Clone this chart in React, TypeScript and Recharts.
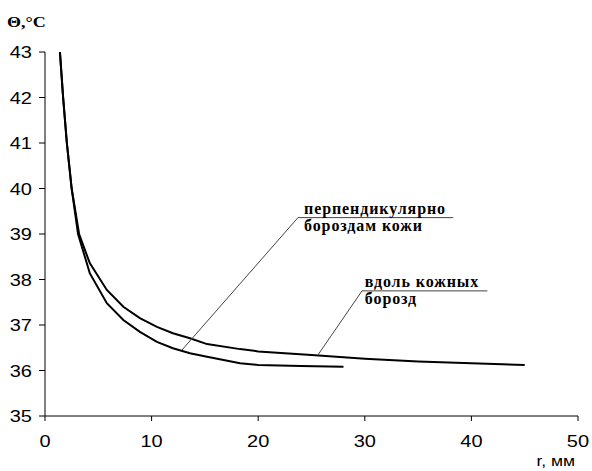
import React from 'react';
import { LineChart, Line, XAxis, YAxis, ReferenceLine, ReferenceDot } from 'recharts';

// вдоль кожных борозд (upper curve)
const alongX = [1.4, 1.7, 2.05, 2.5, 3.2, 4.2, 5.8, 7.35, 8.9, 10.5, 12, 13.6, 15.2, 18.3, 20, 25, 30, 35, 40, 45];
const alongY = [43, 42, 41, 40, 39, 38.36, 37.77, 37.4, 37.15, 36.96, 36.82, 36.71, 36.58, 36.47, 36.42, 36.34, 36.26, 36.2, 36.16, 36.12];
// перпендикулярно бороздам кожи (lower curve)
const perpX = [1.4, 1.7, 2.05, 2.5, 3.1, 4.2, 5.8, 7.35, 8.9, 10.5, 12, 13.6, 15.2, 18.3, 20, 24, 28];
const perpY = [43, 42, 41, 40, 39, 38.14, 37.48, 37.11, 36.85, 36.63, 36.49, 36.38, 36.3, 36.16, 36.12, 36.1, 36.08];

const xTicks = [0, 10, 20, 30, 40, 50];
const yTicks = [35, 36, 37, 38, 39, 40, 41, 42, 43];

const perpLabel = ['перпендикулярно', 'бороздам кожи'];
const alongLabel = ['вдоль кожных', 'борозд'];
const xTitle = 'r, мм';
const yTitle = 'Θ,°C';

// annotation anchors (data coordinates)
const perpLeader = [{ x: 12.85, y: 36.45 }, { x: 23.73, y: 39.36 }];
const perpUnder = [{ x: 23.73, y: 39.36 }, { x: 38.3, y: 39.36 }];
const perpText = { x: 24.3, y: 39.44 };
const alongLeader = [{ x: 25.6, y: 36.34 }, { x: 29.74, y: 37.75 }];
const alongUnder = [{ x: 29.74, y: 37.75 }, { x: 41.5, y: 37.75 }];
const alongText = { x: 30.0, y: 37.84 };

const alongData = alongX.map((x, i) => ({ x, y: alongY[i] }));
const perpData = perpX.map((x, i) => ({ x, y: perpY[i] }));

const serif = '"Liberation Serif", "Times New Roman", serif';
const sans = '"Liberation Sans", Arial, sans-serif';

const makeTextShape = (lines: string[]) => (props: any) => (
  <text
    x={props.cx}
    y={props.cy}
    fontFamily={serif}
    fontWeight="bold"
    fontSize={16}
    letterSpacing={0.9}
    fill="#000"
  >
    {lines.map((l, i) => (
      <tspan key={i} x={props.cx} dy={i === 0 ? 0 : 17}>
        {l}
      </tspan>
    ))}
  </text>
);

const XTick = (props: any) => {
  const { x, y, payload } = props;
  return (
    <text transform={`translate(${x},${y + 12}) scale(1.25,1)`} textAnchor="middle" fontFamily={sans} fontSize={16} fill="#000">
      {payload.value}
    </text>
  );
};

const YTick = (props: any) => {
  const { x, y, payload } = props;
  return (
    <text transform={`translate(${x},${y + 6}) scale(1.25,1)`} textAnchor="end" fontFamily={sans} fontSize={16} fill="#000">
      {payload.value}
    </text>
  );
};

export default function App() {
  return (
    <div style={{ position: 'absolute', left: 0, top: 0, background: '#fff' }}>
      <LineChart width={592} height={471} margin={{ top: 52, right: 14, bottom: 0, left: 0 }}>
        <XAxis
          type="number"
          dataKey="x"
          domain={[0, 50]}
          ticks={xTicks}
          allowDataOverflow
          height={55}
          stroke="#000"
          tickSize={5}
          tickMargin={14}
          tick={<XTick />}
          label={(p: any) => {
            const vb = p.viewBox;
            return (
              <text
                transform={`translate(${vb.x + vb.width - 3},${vb.y + 50}) scale(1.25,1)`}
                textAnchor="end"
                fontFamily={sans}
                fontSize={14}
                fill="#000"
              >
                {xTitle}
              </text>
            );
          }}
        />
        <YAxis
          type="number"
          dataKey="y"
          domain={[35, 43]}
          ticks={yTicks}
          allowDataOverflow
          width={45}
          stroke="#000"
          tickSize={6}
          tickMargin={7}
          tick={<YTick />}
          label={(p: any) => {
            const vb = p.viewBox;
            return (
              <text
                transform={`translate(7,${vb.y - 25}) scale(1.2,1)`}
                fontFamily={serif}
                fontWeight="bold"
                fontSize={15}
                fill="#000"
              >
                {yTitle}
              </text>
            );
          }}
        />
        <Line data={alongData} dataKey="y" type="linear" stroke="#000" strokeWidth={2} dot={false} isAnimationActive={false} />
        <Line data={perpData} dataKey="y" type="linear" stroke="#000" strokeWidth={2} dot={false} isAnimationActive={false} />
        <ReferenceLine segment={perpLeader} stroke="#444" strokeWidth={1} ifOverflow="visible" />
        <ReferenceLine segment={perpUnder} stroke="#444" strokeWidth={1} ifOverflow="visible" />
        <ReferenceLine segment={alongLeader} stroke="#444" strokeWidth={1} ifOverflow="visible" />
        <ReferenceLine segment={alongUnder} stroke="#444" strokeWidth={1} ifOverflow="visible" />
        <ReferenceDot x={perpText.x} y={perpText.y} r={0} ifOverflow="visible" shape={makeTextShape(perpLabel)} />
        <ReferenceDot x={alongText.x} y={alongText.y} r={0} ifOverflow="visible" shape={makeTextShape(alongLabel)} />
      </LineChart>
    </div>
  );
}
